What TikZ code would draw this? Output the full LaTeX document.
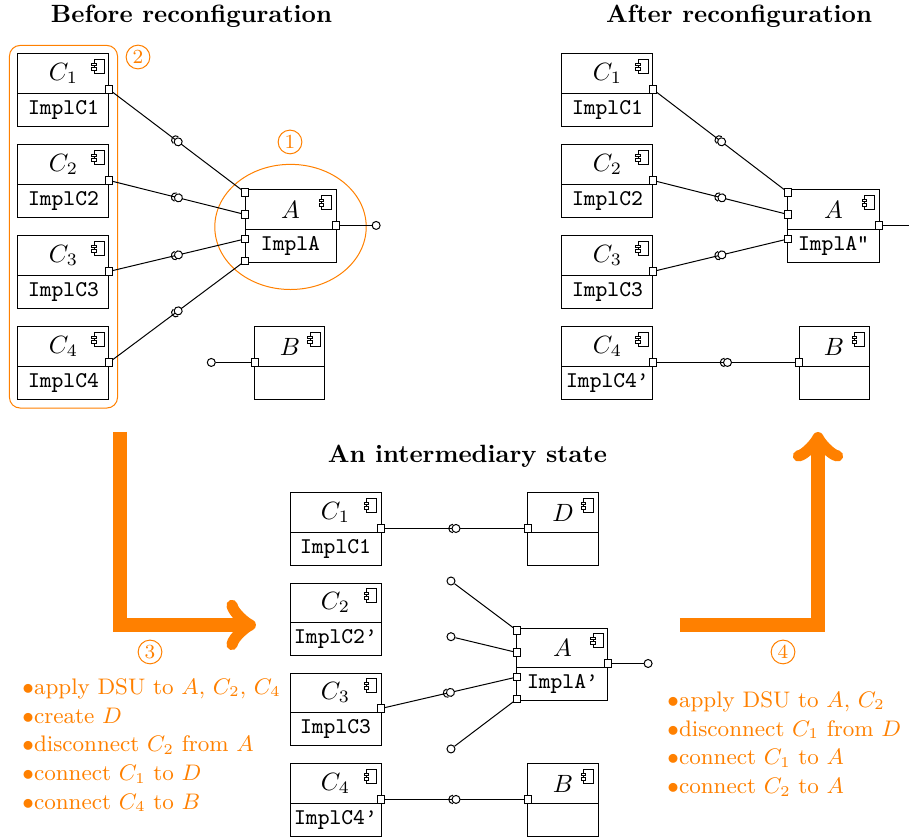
\documentclass[tikz,border=0pt]{standalone}
\usepackage{tikz}
\usetikzlibrary{positioning}
\usetikzlibrary{shapes,fit,decorations.markings}

% component box: [width] name, north west corner, label, implementation
\newcommand{\comp}[5][1.28cm]{%
\node[comptop, minimum width=#1, anchor=north west] (#2) at (#3) {#4};
\node[compbot, minimum width=#1, below=0pt of #2] (#2i) {#5};
\draw[icon] ([xshift=-0.07cm,yshift=-0.08cm]#2.north east) rectangle ++(-0.14cm,-0.2cm);
\draw[icon] ([xshift=-0.24cm,yshift=-0.13cm]#2.north east) rectangle ++(0.06cm,-0.035cm);
\draw[icon] ([xshift=-0.24cm,yshift=-0.195cm]#2.north east) rectangle ++(0.06cm,-0.035cm);
}

\begin{document}
\begin{tikzpicture}[
comptop/.style={draw, rectangle, inner sep=0, outer sep=0, minimum height=0.55cm, line width=0.4pt},
compbot/.style={draw, rectangle, inner sep=0, outer sep=0, minimum height=0.47cm, font=\small\ttfamily, line width=0.4pt},
icon/.style={draw, fill=white, line width=0.35pt},
port/.style={draw, fill=white, rectangle, inner sep=0, outer sep=0, minimum size=2.9pt},
ball/.style={draw, fill=white, circle, inner sep=0, minimum size=3.2pt},
assembly/.style={postaction={decorate}, decoration={markings, mark=at position 0.5 with {\draw[fill=white] (0.6pt,0) circle (1.6pt); \draw (-0.6pt,1.7pt) arc (90:270:1.7pt);}}},
stepmark/.style={circle, draw=orange, text=orange, inner sep=0, minimum size=9.5pt, font=\footnotesize},
title/.style={font=\bfseries},
todo/.style={text=orange, font=\small, align=left, anchor=north west, inner sep=0},
group/.style={draw=orange, rounded corners=0.15cm, inner sep=0.12cm},
bigarrow/.style={draw=orange, line width=5.6pt, ->}
]
\useasboundingbox (0,0) rectangle (12.785,-11.814);

% before reconfiguration
\node[title] (tbefore) at (2.693,-0.225) {Before reconfiguration};
\comp{bC1}{0.253,-0.759}{$C_1$}{ImplC1}
\comp{bC2}{0.253,-2.039}{$C_2$}{ImplC2}
\comp{bC3}{0.253,-3.319}{$C_3$}{ImplC3}
\comp{bC4}{0.253,-4.599}{$C_4$}{ImplC4}
\comp{bA}{3.446,-2.672}{$A$}{ImplA}
\comp[0.985cm]{bB}{3.586,-4.599}{$B$}{}
\node[group, fit=(bC1) (bC4i)] (bgroup) {};
\node[ellipse, draw=orange, minimum width=2.13cm, minimum height=1.76cm, inner sep=0] (bfocus) at ([yshift=0.03cm]bA.south) {};
\node[stepmark] (s1) at (4.079,-1.997) {1};
\node[stepmark] (s2) at (1.941,-0.802) {2};

% after reconfiguration
\node[title] (tafter) at (10.394,-0.225) {After reconfiguration};
\comp{aC1}{7.904,-0.759}{$C_1$}{ImplC1}
\comp{aC2}{7.904,-2.039}{$C_2$}{ImplC2}
\comp{aC3}{7.904,-3.319}{$C_3$}{ImplC3}
\comp{aC4}{7.904,-4.599}{$C_4$}{ImplC4’}
\comp{aA}{11.083,-2.672}{$A$}{ImplA”}
\comp[0.985cm]{aB}{11.238,-4.599}{$B$}{}

% intermediary state
\node[title] (tinter) at (6.575,-6.414) {An intermediary state};
\comp{iC1}{4.079,-6.934}{$C_1$}{ImplC1}
\comp[0.985cm]{iD}{7.426,-6.934}{$D$}{}
\comp{iC2}{4.079,-8.200}{$C_2$}{ImplC2’}
\comp{iC3}{4.079,-9.466}{$C_3$}{ImplC3}
\comp{iC4}{4.079,-10.745}{$C_4$}{ImplC4’}
\comp[0.985cm]{iB}{7.426,-10.745}{$B$}{}
\comp{iA}{7.271,-8.833}{$A$}{ImplA’}
\node[ball] (iball1) at (6.343,-8.172) {};
\node[ball] (iball2) at (6.343,-8.955) {};
\node[ball] (iball4) at (6.343,-10.534) {};

% ports
\foreach \c in {bC1,bC2,bC3,bC4,aC1,aC2,aC3,aC4,iC1,iC3,iC4}
  \node[port, anchor=south] (\c-p) at (\c.south east) {};
\foreach \c in {bB,aB,iB,iD}
  \node[port, anchor=south] (\c-p) at (\c.south west) {};
\foreach \a in {bA,aA,iA}
  \node[port, anchor=south] (\a-r) at (\a.south east) {};
\foreach \a in {bA,iA}
  \foreach \y [count=\k] in {0.035,0.345,0.689,0.999}
    \node[port] (\a-\k) at ([yshift=-\y cm]\a.north west) {};
\foreach \y [count=\k] in {0.035,0.345,0.689}
  \node[port] (aA-\k) at ([yshift=-\y cm]aA.north west) {};
\node[ball, right=0.45cm of bA-r] (bAball) {};
\node[ball, left=0.5cm of bB-p] (bBball) {};
\node[ball, right=0.45cm of iA-r] (iball5) {};
\coordinate[right=1cm of aA-r] (aAout);

% connectors
\foreach \k in {1,...,4}
  \draw[assembly] (bC\k-p) -- (bA-\k);
\draw (bA-r) -- (bAball);
\draw (bBball) -- (bB-p);
\foreach \k in {1,...,3}
  \draw[assembly] (aC\k-p) -- (aA-\k);
\draw[assembly] (aC4-p) -- (aB-p);
\draw (aA-r) -- (aAout);
\draw[assembly] (iC1-p) -- (iD-p);
\draw[assembly] (iC3-p) -- (iA-3);
\draw[assembly] (iC4-p) -- (iB-p);
\draw (iball1) -- (iA-1);
\draw (iball2) -- (iA-2);
\draw (iball4) -- (iA-4);
\draw (iA-r) -- (iball5);

% steps
\coordinate (goI) at (1.688,-6.076);
\coordinate (endI) at (3.60,-8.790);
\draw[bigarrow] (goI) |- (endI);
\coordinate (goII) at (9.564,-8.790);
\coordinate (endII) at (11.505,-6.076);
\draw[bigarrow] (goII) -| (endII);
\node[stepmark] (s3) at (2.110,-9.170) {3};
\node[stepmark] (s4) at (11.013,-9.170) {4};
\node[todo] (todoI) at (0.309,-9.536) {$\bullet$apply DSU to $A$, $C_2$, $C_4$\\[0.5pt]
$\bullet$create $D$\\[0.5pt]
$\bullet$disconnect $C_2$ from $A$\\[0.5pt]
$\bullet$connect $C_1$ to $D$\\[0.5pt]
$\bullet$connect $C_4$ to $B$};
\node[todo] (todoII) at (9.381,-9.72) {$\bullet$apply DSU to $A$, $C_2$\\[0.5pt]
$\bullet$disconnect $C_1$ from $D$\\[0.5pt]
$\bullet$connect $C_1$ to $A$\\[0.5pt]
$\bullet$connect $C_2$ to $A$};
\end{tikzpicture}
\end{document}
